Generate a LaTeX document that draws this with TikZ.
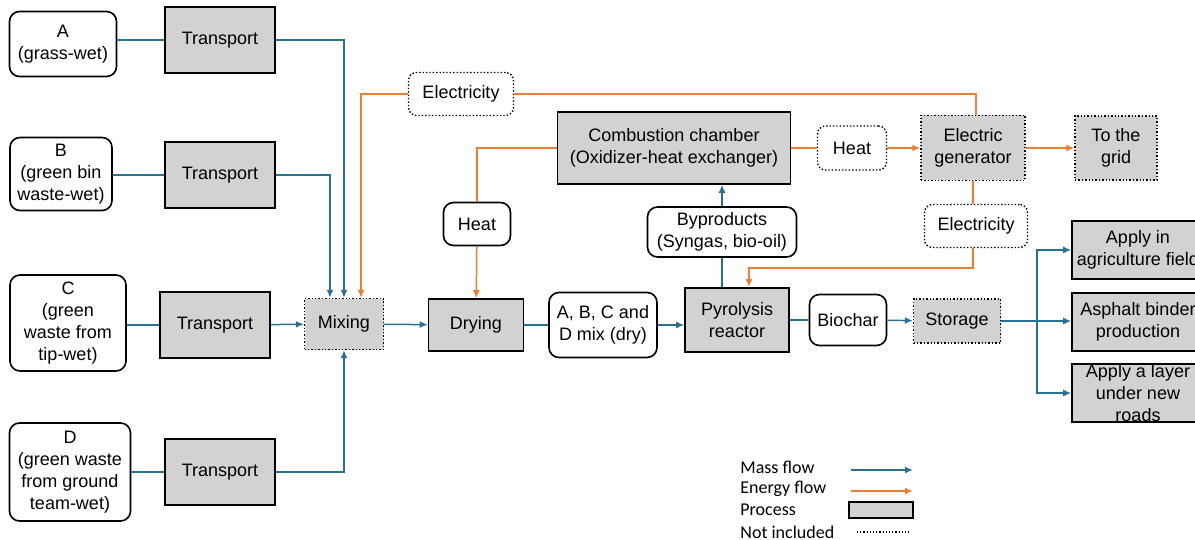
\documentclass[tikz,border=0pt]{standalone}
\usepackage{fontspec}
\setmainfont{Liberation Sans}
\newfontfamily\legfont{Carlito}
\usetikzlibrary{arrows.meta}
\definecolor{massblue}{RGB}{40,112,148}
\definecolor{energyorange}{RGB}{237,125,49}
\definecolor{procgray}{RGB}{210,210,210}

\begin{document}
\begin{tikzpicture}[x=0.5pt,y=-0.5pt,
	every node/.style={font=\fontsize{9}{11}\selectfont, align=center, inner sep=1pt},
	proc/.style={draw, line width=0.8pt, fill=procgray},
	procx/.style={draw, densely dotted, line width=0.7pt, fill=procgray},
	item/.style={draw, line width=0.8pt, fill=white, rounded corners=5pt},
	itemx/.style={draw, densely dotted, line width=0.7pt, fill=white, rounded corners=4pt},
	legend/.style={anchor=west, font=\legfont\fontsize{9}{11}\selectfont},
	mass/.style={draw=massblue, line width=0.75pt},
	energy/.style={draw=energyorange, line width=0.75pt},
	>={Latex[length=4pt,width=3.5pt]}]
	\useasboundingbox (0,0) rectangle (1195,540);

	\node[item, minimum width=53.5pt, minimum height=32.5pt] (A) at (63,44) {A\\(grass-wet)};
	\node[item, minimum width=51pt, minimum height=36.5pt] (B) at (61,174) {B\\(green bin\\waste-wet)};
	\node[item, minimum width=58pt, minimum height=48pt] (C) at (68,323) {C\\(green\\waste from\\tip-wet)};
	\node[item, minimum width=60.5pt, minimum height=49pt] (D) at (70,472) {D\\(green waste\\from ground\\team-wet)};
	\node[proc, minimum width=55pt, minimum height=33pt] (t1) at (220,40) {Transport};
	\node[proc, minimum width=55pt, minimum height=33pt] (t2) at (220,175) {Transport};
	\node[proc, minimum width=55pt, minimum height=33pt] (t3) at (215,325) {Transport};
	\node[proc, minimum width=55pt, minimum height=33pt] (t4) at (220,472) {Transport};
	\node[procx, minimum width=39.5pt, minimum height=25.5pt] (mix) at (344,324) {Mixing};
	\node[itemx, minimum width=52.5pt, minimum height=21.5pt] (elec1) at (461,94) {Electricity};
	\node[proc, minimum width=116.5pt, minimum height=36pt] (comb) at (674,148) {Combustion chamber\\(Oxidizer-heat exchanger)};
	\node[itemx, minimum width=34.5pt, minimum height=22pt] (heat1) at (852,148) {Heat};
	\node[procx, minimum width=52pt, minimum height=32.5pt] (gen) at (973,148) {Electric\\generator};
	\node[procx, minimum width=41pt, minimum height=32pt] (grid) at (1116,148) {To the\\grid};
	\node[item, minimum width=33.5pt, minimum height=21.5pt] (heat2) at (477,224) {Heat};
	\node[item, minimum width=74.5pt, minimum height=25pt] (byp) at (722,232) {Byproducts\\(Syngas, bio-oil)};
	\node[itemx, minimum width=51.5pt, minimum height=21.5pt] (elec2) at (976,226) {Electricity};
	\node[proc, minimum width=47.5pt, minimum height=26pt] (dry) at (476,325) {Drying};
	\node[item, minimum width=54pt, minimum height=32.5pt] (dmix) at (603,325) {A, B, C and\\D mix (dry)};
	\node[proc, minimum width=52pt, minimum height=32pt] (pyr) at (737,320) {Pyrolysis\\reactor};
	\node[item, minimum width=38.5pt, minimum height=25.5pt] (bio) at (848,320) {Biochar};
	\node[procx, minimum width=43.5pt, minimum height=22pt] (sto) at (957,321) {Storage};
	\node[proc, minimum width=66pt, minimum height=29pt] (ag) at (1138,250) {Apply in\\agriculture field};
	\node[proc, minimum width=66pt, minimum height=29pt] (asp) at (1138,322) {Asphalt binder\\production};
	\node[proc, minimum width=66pt, minimum height=29pt, inner ysep=-2pt] (road) at (1138,393) {Apply a layer\\under new\\roads};
	\coordinate (br) at (1037,321);

	\draw[mass] (t1.west -| A.east) -- (t1.west);
	\draw[mass] (t2.west -| B.east) -- (t2.west);
	\draw[mass] (t3.west -| C.east) -- (t3.west);
	\draw[mass] (t4.west -| D.east) -- (t4.west);
	\draw[mass,->] (t1.east) -| (mix.north);
	\draw[mass,->] (t2.east) -| ([xshift=-7pt]mix.north);
	\draw[mass,->] (t3) -- (mix);
	\draw[mass,->] (t4.east) -| (mix.south);
	\draw[energy,->] (elec1.west) -| ([xshift=8.5pt]mix.north);
	\draw[mass,->] (mix) -- (dry);
	\draw[mass] (dry) -- (dmix);
	\draw[mass,->] (dmix) -- (dmix -| pyr.west);
	\draw[mass] (byp.south |- pyr.north) -- (byp.south);
	\draw[mass,->] (byp.north) -- (byp.north |- comb.south);
	\draw[energy] (comb.west) -| (heat2.north);
	\draw[energy,->] (heat2) -- (dry);
	\draw[energy] (comb) -- (heat1);
	\draw[energy,->] (heat1) -- (gen);
	\draw[energy,->] (gen) -- (grid);
	\draw[energy] (elec1.east) -| ([xshift=1.5pt]gen.north);
	\draw[energy] (gen.south) -- (gen.south |- elec2.north);
	\draw[energy,->] (gen.south |- elec2.south) -- ++(0,20) -| ([xshift=6pt]pyr.north);
	\draw[mass] (pyr.east |- bio) -- (bio);
	\draw[mass,->] (bio) -- (sto);
	\draw[mass,->] (sto.east) -- (sto.east -| asp.west);
	\draw[mass,->] (br) |- (ag.west);
	\draw[mass,->] (br) |- (road.west);

	\node[legend] (lmass) at (738,467) {Mass flow};
	\node[legend] (lenergy) at (738,489) {Energy flow};
	\node[legend] (lproc) at (738,510) {Process};
	\node[legend] (lnot) at (738,532) {Not included};
	\draw[mass,->] (851,470) -- (913,470);
	\draw[energy,->] (851,491) -- (913,491);
	\node[proc, minimum width=32pt, minimum height=8pt] (kproc) at (881,510) {};
	\draw[densely dotted, line width=0.6pt] (857,532) -- (911,532);
\end{tikzpicture}
\end{document}
